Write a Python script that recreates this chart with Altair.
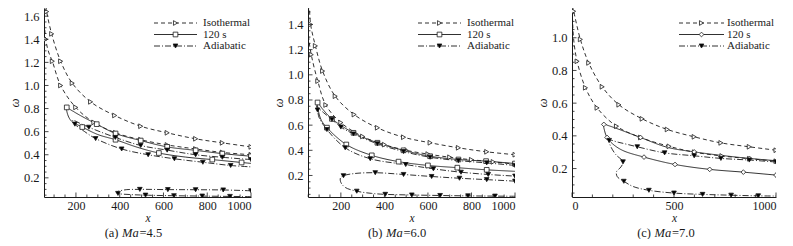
import altair as alt
import pandas as pd
import numpy as np

SERIES = ["Isothermal", "120 s", "Adiabatic"]
DASH = [[4, 3], [1, 0], [6, 2, 1, 2]]
FILL = ["white", "white", "black"]
INK = "#1a1a1a"
FONT = "Liberation Serif, Times New Roman, serif"

# ---------------- panel (a) Ma=4.5 ----------------
A_ISO_X = [1000, 869, 747, 617, 496, 377, 267, 183, 130, 89, 66, 60, 55, 62, 75, 92, 130, 199, 282, 381, 496, 617, 747, 869, 1000]
A_ISO_W = [0.468, 0.503, 0.538, 0.59, 0.647, 0.74, 0.858, 1.02, 1.21, 1.447, 1.64, 1.72, 1.60, 1.40, 1.29, 1.21, 1.0, 0.81, 0.68, 0.59, 0.53, 0.485, 0.45, 0.42, 0.40]
A_ISO_M = [1, 1, 1, 1, 1, 1, 1, 1, 1, 1, 1, 0, 0, 1, 0, 1, 1, 1, 1, 1, 1, 1, 1, 1, 1]

A_120_X = [1000, 869, 747, 617, 496, 381, 295, 220, 175, 158, 162, 180, 229, 300, 381, 480, 579, 700, 823, 957, 1000]
A_120_W = [0.387, 0.41, 0.438, 0.468, 0.523, 0.584, 0.665, 0.74, 0.79, 0.81, 0.75, 0.69, 0.64, 0.575, 0.53, 0.465, 0.415, 0.38, 0.358, 0.333, 0.325]
A_120_M = [1, 1, 1, 1, 1, 1, 1, 0, 0, 1, 0, 0, 1, 0, 1, 0, 1, 0, 1, 1, 0]

A_AD_X = [1000, 869, 747, 617, 496, 380, 259, 215, 185, 195, 240, 290, 409, 530, 650, 780, 907, 1000]
A_AD_W = [0.358, 0.378, 0.40, 0.44, 0.48, 0.55, 0.638, 0.675, 0.70, 0.665, 0.60, 0.54, 0.45, 0.40, 0.365, 0.335, 0.307, 0.295]
A_AD_M = [1, 1, 1, 1, 1, 1, 1, 0, 0, 1, 0, 1, 1, 1, 1, 1, 1, 0]

A_AD2_X = [1000, 873, 747, 620, 492, 420, 385, 392, 450, 518, 648, 777, 904, 1000]
A_AD2_W = [0.088, 0.095, 0.097, 0.098, 0.1, 0.095, 0.075, 0.065, 0.055, 0.05, 0.045, 0.042, 0.039, 0.037]
A_AD2_M = [1, 1, 1, 1, 1, 0, 0, 1, 0, 1, 1, 1, 1, 0]

# ---------------- panel (b) Ma=6.0 ----------------
B_ISO_X = [1000, 870, 740, 610, 488, 368, 261, 174, 116, 83, 61, 54, 50, 52, 64, 94, 131, 200, 300, 400, 500, 600, 700, 800, 900, 1000]
B_ISO_W = [0.365, 0.388, 0.42, 0.46, 0.504, 0.579, 0.684, 0.83, 1.03, 1.23, 1.40, 1.56, 1.45, 1.30, 1.16, 0.95, 0.76, 0.62, 0.51, 0.445, 0.40, 0.37, 0.345, 0.325, 0.308, 0.29]
B_ISO_M = [1, 1, 1, 1, 1, 1, 1, 1, 1, 1, 1, 0, 0, 0, 1, 1, 1, 1, 1, 1, 1, 1, 1, 1, 1, 1]

B_120_X = [1000, 867, 740, 610, 488, 368, 258, 159, 115, 93, 96, 110, 136, 225, 342, 465, 600, 735, 870, 1000]
B_120_W = [0.295, 0.314, 0.327, 0.353, 0.40, 0.46, 0.539, 0.65, 0.73, 0.78, 0.72, 0.64, 0.58, 0.446, 0.36, 0.31, 0.28, 0.262, 0.245, 0.233]
B_120_M = [1, 1, 1, 1, 1, 1, 1, 1, 0, 1, 0, 0, 1, 1, 1, 1, 1, 1, 1, 0]

B_AD_X = [1000, 870, 740, 610, 488, 368, 258, 200, 159, 120, 95, 88, 93, 100, 136, 220, 335, 498, 625, 752, 877, 1000]
B_AD_W = [0.28, 0.30, 0.318, 0.345, 0.39, 0.452, 0.53, 0.585, 0.645, 0.70, 0.74, 0.755, 0.72, 0.66, 0.565, 0.42, 0.333, 0.287, 0.253, 0.226, 0.208, 0.195]
B_AD_M = [1, 1, 1, 1, 1, 1, 1, 1, 1, 0, 0, 0, 1, 0, 1, 1, 1, 1, 1, 1, 1, 1]

B_AD2_X = [1000, 870, 745, 617, 488, 358, 260, 212, 198, 200, 220, 273, 340, 404, 526, 656, 784, 908, 1000]
B_AD2_W = [0.155, 0.167, 0.178, 0.192, 0.208, 0.222, 0.215, 0.198, 0.18, 0.145, 0.105, 0.075, 0.058, 0.05, 0.045, 0.041, 0.038, 0.036, 0.035]
B_AD2_M = [1, 1, 1, 1, 1, 1, 0, 1, 0, 0, 0, 1, 0, 1, 1, 1, 1, 1, 0]

# ---------------- panel (c) Ma=7.0 ----------------
C_ISO_X = [1000, 869, 730, 599, 467, 344, 230, 148, 82, 41, 8, 2, 3, 9, 25, 66, 123, 218, 336, 476, 600, 735, 870, 1000]
C_ISO_W = [0.312, 0.333, 0.357, 0.394, 0.439, 0.504, 0.59, 0.70, 0.846, 0.99, 1.162, 1.19, 1.10, 0.98, 0.856, 0.694, 0.571, 0.459, 0.39, 0.336, 0.30, 0.277, 0.26, 0.245]
C_ISO_M = [1, 1, 1, 1, 1, 1, 1, 1, 1, 1, 1, 0, 0, 0, 1, 1, 1, 1, 1, 1, 1, 1, 1, 1]

C_120_X = [1000, 870, 735, 599, 467, 336, 230, 180, 156, 160, 172, 200, 250, 353, 505, 675, 840, 1000]
C_120_W = [0.248, 0.262, 0.28, 0.302, 0.33, 0.39, 0.44, 0.462, 0.47, 0.43, 0.39, 0.35, 0.31, 0.27, 0.225, 0.195, 0.178, 0.16]
C_120_M = [0, 1, 0, 1, 0, 1, 0, 0, 1, 0, 1, 0, 0, 1, 1, 1, 1, 1]

C_AD_X = [1000, 869, 730, 599, 454, 320, 230, 182, 190, 215, 250, 240, 218, 222, 254, 300, 377, 500, 640, 780, 913, 1000]
C_AD_W = [0.24, 0.252, 0.262, 0.278, 0.296, 0.333, 0.36, 0.372, 0.335, 0.285, 0.241, 0.21, 0.18, 0.15, 0.122, 0.09, 0.067, 0.05, 0.042, 0.037, 0.033, 0.032]
C_AD_M = [1, 1, 1, 1, 1, 1, 0, 1, 0, 0, 1, 0, 0, 0, 1, 0, 1, 1, 1, 1, 1, 0]

# axis ticks
AB_X_TICKS = [200, 400, 600, 800, 1000]
C_X_TICKS = [0, 500, 1000]
A_Y_TICKS = [0.2, 0.4, 0.6, 0.8, 1.0, 1.2, 1.4, 1.6]
B_Y_TICKS = [0.2, 0.4, 0.6, 0.8, 1.0, 1.2, 1.4]
C_Y_TICKS = [0.2, 0.4, 0.6, 0.8, 1.0]

CAPTIONS = [("(a)", "Ma", "=4.5"), ("(b)", "Ma", "=6.0"), ("(c)", "Ma", "=7.0")]


def build_df(parts):
    rows = []
    for seg, (series, xs, ws, ms) in enumerate(parts):
        for i, (x, w, m) in enumerate(zip(xs, ws, ms)):
            rows.append(dict(x=x, w=w, mk=m, series=series, seg=seg, ord=i))
    return pd.DataFrame(rows)


def panel(df, xdom, ydom, xmaj, xstep, ymaj, W, H, shapes, cap, cap_dx, leg_x0, leg_x1, leg_tx):
    xs = alt.Scale(domain=xdom, nice=False, zero=False)
    ys = alt.Scale(domain=ydom, nice=False, zero=False)
    xax = alt.Axis(values=xmaj, title="x", format="d", ticks=False, grid=False,
                   labelPadding=3, titlePadding=1, titleFontStyle="italic",
                   titleFont=FONT, titleFontWeight="normal", titleFontSize=11.5,
                   labelFont=FONT, labelFontSize=12)
    yax = alt.Axis(values=ymaj, title="ω", format=".1f", ticks=False, grid=False,
                   labelPadding=5, titlePadding=2, titleFontStyle="italic",
                   titleFont=FONT, titleFontWeight="normal", titleFontSize=13,
                   labelFont=FONT, labelFontSize=12.5)
    X = alt.X("x:Q", scale=xs, axis=xax)
    Y = alt.Y("w:Q", scale=ys, axis=yax)

    lines = alt.Chart(df).mark_line(clip=True, strokeWidth=0.9, color=INK,
                                    interpolate="catmull-rom").encode(
        x=X, y=Y, detail="seg:N", order="ord:Q",
        strokeDash=alt.StrokeDash("series:N", scale=alt.Scale(domain=SERIES, range=DASH), legend=None))
    pts = alt.Chart(df).transform_filter("datum.mk == 1").mark_point(
        clip=True, filled=True, size=22, stroke=INK, strokeWidth=0.8, opacity=1).encode(
        x=X, y=Y,
        shape=alt.Shape("series:N", scale=alt.Scale(domain=SERIES, range=shapes), legend=None),
        fill=alt.Fill("series:N", scale=alt.Scale(domain=SERIES, range=FILL), legend=None))

    # inward ticks
    xminor = [v for v in np.arange(0, 1001, xstep) if xdom[0] <= v <= xdom[1] and v not in xmaj]
    yminor = [round(v, 2) for v in np.arange(0.05, ydom[1], 0.05) if ydom[0] <= v <= ydom[1]]
    yminor = [v for v in yminor if all(abs(v - t) > 1e-6 for t in ymaj)]
    xt_major = alt.Chart(pd.DataFrame({"x": xmaj})).mark_rule(color=INK, strokeWidth=0.8).encode(
        x=X, y=alt.value(H), y2=alt.value(H - 4.5))
    xt_minor = alt.Chart(pd.DataFrame({"x": xminor})).mark_rule(color=INK, strokeWidth=0.8).encode(
        x=X, y=alt.value(H), y2=alt.value(H - 2.5))
    yt_major = alt.Chart(pd.DataFrame({"w": ymaj})).mark_rule(color=INK, strokeWidth=0.8).encode(
        y=Y, x=alt.value(0), x2=alt.value(4.5))
    yt_minor = alt.Chart(pd.DataFrame({"w": yminor})).mark_rule(color=INK, strokeWidth=0.8).encode(
        y=Y, x=alt.value(0), x2=alt.value(2.5))

    one = pd.DataFrame({"k": [0]})
    legend = []
    for i, s in enumerate(SERIES):
        ry = 15 + 11.5 * i
        legend.append(alt.Chart(one).mark_rule(color=INK, strokeWidth=0.9, strokeDash=DASH[i]).encode(
            x=alt.value(leg_x0), x2=alt.value(leg_x1), y=alt.value(ry)))
        legend.append(alt.Chart(one).mark_point(shape=shapes[i], filled=True, fill=FILL[i], stroke=INK,
                                                strokeWidth=0.8, size=22, opacity=1).encode(
            x=alt.value((leg_x0 + leg_x1) / 2), y=alt.value(ry)))
        legend.append(alt.Chart(one).mark_text(align="left", baseline="middle", font=FONT,
                                               fontSize=11, color=INK).encode(
            x=alt.value(leg_tx), y=alt.value(ry), text=alt.value(s)))

    cy = H + 35.5
    caps = [
        alt.Chart(one).mark_text(align="right", baseline="middle", font=FONT, fontSize=12.5, color=INK).encode(
            x=alt.value(cap_dx - 3), y=alt.value(cy), text=alt.value(cap[0])),
        alt.Chart(one).mark_text(align="left", baseline="middle", font=FONT, fontSize=12.5, color=INK,
                                 fontStyle="italic").encode(
            x=alt.value(cap_dx + 0.5), y=alt.value(cy), text=alt.value(cap[1])),
        alt.Chart(one).mark_text(align="left", baseline="middle", font=FONT, fontSize=12.5, color=INK).encode(
            x=alt.value(cap_dx + 18), y=alt.value(cy), text=alt.value(cap[2])),
    ]
    return alt.layer(lines, pts, xt_major, xt_minor, yt_major, yt_minor, *legend, *caps).properties(
        width=W, height=H)


df_a = build_df([("Isothermal", A_ISO_X, A_ISO_W, A_ISO_M), ("120 s", A_120_X, A_120_W, A_120_M),
                 ("Adiabatic", A_AD_X, A_AD_W, A_AD_M), ("Adiabatic", A_AD2_X, A_AD2_W, A_AD2_M)])
df_b = build_df([("Isothermal", B_ISO_X, B_ISO_W, B_ISO_M), ("120 s", B_120_X, B_120_W, B_120_M),
                 ("Adiabatic", B_AD_X, B_AD_W, B_AD_M), ("Adiabatic", B_AD2_X, B_AD2_W, B_AD2_M)])
df_c = build_df([("Isothermal", C_ISO_X, C_ISO_W, C_ISO_M), ("120 s", C_120_X, C_120_W, C_120_M),
                 ("Adiabatic", C_AD_X, C_AD_W, C_AD_M)])

SH_AB = ["triangle-right", "square", "triangle-down"]
SH_C = ["triangle-right", "diamond", "triangle-down"]

pa = panel(df_a, [54, 1000], [0.034, 1.671], AB_X_TICKS, 50, A_Y_TICKS, 207, 189, SH_AB,
           CAPTIONS[0], 77.5, 110, 153, 159)
pb = panel(df_b, [49, 1000], [0.029, 1.531], AB_X_TICKS, 50, B_Y_TICKS, 207, 189, SH_AB,
           CAPTIONS[1], 77.5, 110, 153, 159)
pc = panel(df_c, [0, 1000], [0.026, 1.182], C_X_TICKS, 100, C_Y_TICKS, 204, 189, SH_C,
           CAPTIONS[2], 82, 107, 152, 155)

chart = alt.hconcat(pa, pb, pc, spacing=57, bounds="flush").resolve_scale(
    x="independent", y="independent", shape="independent", fill="independent", strokeDash="independent"
).properties(
    padding={"left": 0, "top": 0, "right": 0, "bottom": 0}
).configure(font=FONT).configure_view(stroke=None).configure_axis(
    labelFont=FONT, labelFontSize=12.5, labelColor=INK, domainColor=INK, domainWidth=1,
    titleColor=INK
)

chart.save("out.html", embed_options={"renderer": "svg", "actions": False})
